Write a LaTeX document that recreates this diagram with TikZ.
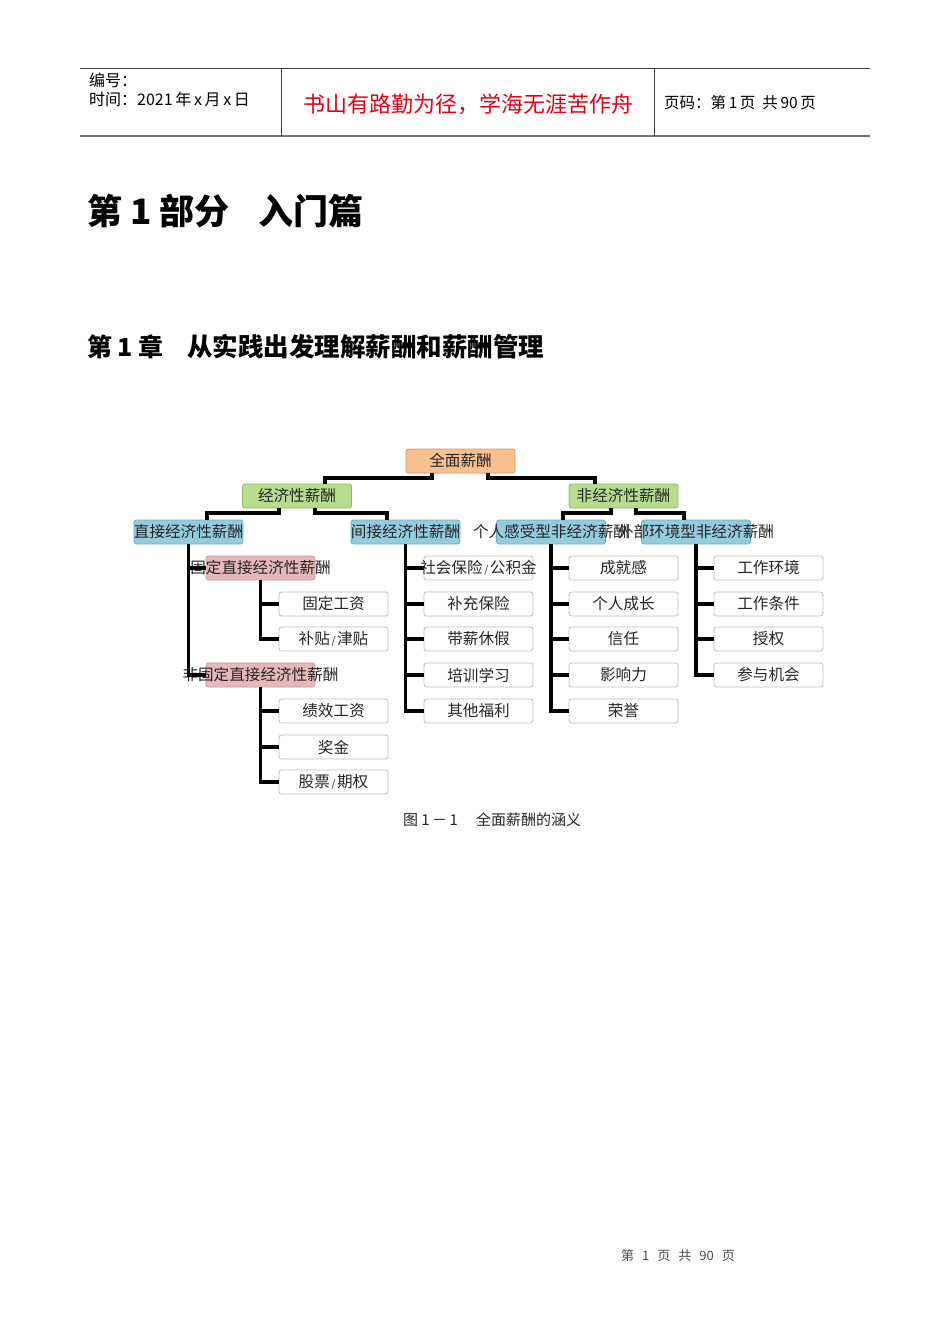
\documentclass[tikz,border=0pt]{standalone}
\usepackage{fontspec}
\setmainfont{Liberation Serif}
\newfontfamily\cjk{Noto Sans CJK SC}
\usetikzlibrary{calc}
\definecolor{orgfill}{HTML}{FAC090}
\definecolor{orgdraw}{HTML}{D99A66}
\definecolor{grnfill}{HTML}{B6DD8E}
\definecolor{grndraw}{HTML}{8FB86A}
\definecolor{blufill}{HTML}{93CDDD}
\definecolor{bludraw}{HTML}{6FAEC2}
\definecolor{pnkfill}{HTML}{E6B9B8}
\definecolor{pnkdraw}{HTML}{C99A99}
\definecolor{motto}{HTML}{E60012}
\tikzset{
  box/.style={rounded corners=2.5pt, minimum width=109pt, minimum height=24pt, inner sep=0pt, line width=0.8pt},
  orgbox/.style={box, fill=orgfill, draw=orgdraw},
  grnbox/.style={box, fill=grnfill, draw=grndraw},
  blubox/.style={box, fill=blufill, draw=bludraw},
  pnkbox/.style={box, fill=pnkfill, draw=pnkdraw},
  whtbox/.style={box, fill=white, draw=black!25},
  lbl/.style={font=\cjk\fontsize{15.6}{15.6}\selectfont, inner sep=0pt, text=black!85},
  conn/.style={line width=3.4pt, line join=miter, black},
  hdr/.style={font=\cjk\fontsize{16}{16}\selectfont, inner sep=0pt, anchor=west},
}
\begin{document}
\begin{tikzpicture}[x=1pt,y=-1pt]
\useasboundingbox (0,0) rectangle (950,1344);
% header
\coordinate (hTL) at (80,68);
\coordinate (hTR) at (870,68);
\coordinate (hBL) at (80,136);
\coordinate (hBR) at (870,136);
\coordinate (v1t) at (281,68);
\coordinate (v1b) at (281,136);
\coordinate (v2t) at (654,68);
\coordinate (v2b) at (654,136);
\draw[line width=1pt, black!75] (hTL) -- (hTR);
\draw[line width=1.8pt, black!55] (hBL) -- (hBR);
\draw[line width=1pt, black!75] (v1t) -- (v1b);
\draw[line width=1pt, black!75] (v2t) -- (v2b);
\node[hdr] (h1) at (89,80) {编号：};
\node[hdr] (h2) at (89,99) {时间：2021\,年\,x\,月\,x\,日};
\node[font=\cjk\fontsize{22}{22}\selectfont, text=motto, inner sep=0pt] (h3) at (468,104) {书山有路勤为径，学海无涯苦作舟};
\node[hdr, font=\cjk\fontsize{15.5}{15.5}\selectfont] (h4) at (664,103) {页码：第\,1\,页\ \ 共\,90\,页};
% titles
\node[font=\cjk\bfseries\fontsize{35}{35}\selectfont, inner sep=0pt, anchor=west] (t1) at (87,211) {第 1 部分};
\node[font=\cjk\bfseries\fontsize{35}{35}\selectfont, inner sep=0pt, anchor=west] (t2) at (258,211) {入门篇};
\node[font=\cjk\bfseries\fontsize{25}{25}\selectfont, inner sep=0pt, anchor=west] (t3) at (87,347) {第 1 章};
\node[font=\cjk\bfseries\fontsize{25.5}{25.5}\selectfont, inner sep=0pt, anchor=west] (t4) at (187,347) {从实践出发理解薪酬和薪酬管理};
% boxes
\node[orgbox] (top) at (460.5,461) {};
\node[grnbox] (econ) at (297,496) {};
\node[grnbox] (nonecon) at (623.5,496) {};
\node[blubox] (d1) at (188.5,532) {};
\node[blubox] (d2) at (405.5,532) {};
\node[blubox] (d3) at (551,532) {};
\node[blubox] (d4) at (696,532) {};
\node[pnkbox] (p1) at (260.5,568) {};
\node[pnkbox] (p2) at (260.5,675) {};
\node[whtbox] (a1) at (333.5,604) {};
\node[whtbox] (a2) at (333.5,639) {};
\node[whtbox] (a3) at (333.5,711) {};
\node[whtbox] (a4) at (333.5,747) {};
\node[whtbox] (a5) at (333.5,782) {};
\node[whtbox] (b1) at (478.5,568) {};
\node[whtbox] (b2) at (478.5,604) {};
\node[whtbox] (b3) at (478.5,639) {};
\node[whtbox] (b4) at (478.5,675) {};
\node[whtbox] (b5) at (478.5,711) {};
\node[whtbox] (c1) at (623.5,568) {};
\node[whtbox] (c2) at (623.5,604) {};
\node[whtbox] (c3) at (623.5,639) {};
\node[whtbox] (c4) at (623.5,675) {};
\node[whtbox] (c5) at (623.5,711) {};
\node[whtbox] (e1) at (768.5,568) {};
\node[whtbox] (e2) at (768.5,604) {};
\node[whtbox] (e3) at (768.5,639) {};
\node[whtbox] (e4) at (768.5,675) {};
% texts
\node[lbl] (topT) at (top) {全面薪酬};
\node[lbl] (econT) at (econ) {经济性薪酬};
\node[lbl] (noneconT) at (nonecon) {非经济性薪酬};
\node[lbl] (d1T) at (d1) {直接经济性薪酬};
\node[lbl] (d2T) at (d2) {间接经济性薪酬};
\node[lbl] (d3T) at (d3) {个人感受型非经济薪酬};
\node[lbl] (d4T) at (d4) {外部环境型非经济薪酬};
\node[lbl] (p1T) at (p1) {固定直接经济性薪酬};
\node[lbl] (p2T) at (p2) {非固定直接经济性薪酬};
\node[lbl] (a1T) at (a1) {固定工资};
\node[lbl] (a2T) at (a2) {补贴{\fontsize{10}{10}\selectfont\,/\,}津贴};
\node[lbl] (a3T) at (a3) {绩效工资};
\node[lbl] (a4T) at (a4) {奖金};
\node[lbl] (a5T) at (a5) {股票{\fontsize{10}{10}\selectfont\,/\,}期权};
\node[lbl] (b1T) at (b1) {社会保险{\fontsize{10}{10}\selectfont\,/\,}公积金};
\node[lbl] (b2T) at (b2) {补充保险};
\node[lbl] (b3T) at (b3) {带薪休假};
\node[lbl] (b4T) at (b4) {培训学习};
\node[lbl] (b5T) at (b5) {其他福利};
\node[lbl] (c1T) at (c1) {成就感};
\node[lbl] (c2T) at (c2) {个人成长};
\node[lbl] (c3T) at (c3) {信任};
\node[lbl] (c4T) at (c4) {影响力};
\node[lbl] (c5T) at (c5) {荣誉};
\node[lbl] (e1T) at (e1) {工作环境};
\node[lbl] (e2T) at (e2) {工作条件};
\node[lbl] (e3T) at (e3) {授权};
\node[lbl] (e4T) at (e4) {参与机会};
% connectors
\coordinate (y1) at (0,478);
\coordinate (y2) at (0,513);
\draw[conn] ([xshift=-28.5pt]top.south) -- ([xshift=-28.5pt]top.south |- y1) -| ([xshift=28pt]econ.north);
\draw[conn] ([xshift=27.5pt]top.south) -- ([xshift=27.5pt]top.south |- y1) -| ([xshift=-28.5pt]nonecon.north);
\draw[conn] ([xshift=-18pt]econ.south) -- ([xshift=-18pt]econ.south |- y2) -| ([xshift=18.5pt]d1.north);
\draw[conn] ([xshift=18pt]econ.south) -- ([xshift=18pt]econ.south |- y2) -| ([xshift=-18.5pt]d2.north);
\draw[conn] ([xshift=-12.5pt]nonecon.south) -- ([xshift=-12.5pt]nonecon.south |- y2) -| ([xshift=12pt]d3.north);
\draw[conn] ([xshift=12.5pt]nonecon.south) -- ([xshift=12.5pt]nonecon.south |- y2) -| ([xshift=-12pt]d4.north);
% direct
\draw[conn] (d1.south) |- (p2.west);
\draw[conn] (d1.south |- p1.west) -- (p1.west);
\draw[conn] (p1.south) |- (a2.west);
\draw[conn] (p1.south |- a1.west) -- (a1.west);
\draw[conn] (p2.south) |- (a5.west);
\draw[conn] (p2.south |- a3.west) -- (a3.west);
\draw[conn] (p2.south |- a4.west) -- (a4.west);
% indirect
\draw[conn] (d2.south) |- (b5.west);
\foreach \n in {b1,b2,b3,b4} \draw[conn] (d2.south |- \n.west) -- (\n.west);
% personal
\draw[conn] (d3.south) |- (c5.west);
\foreach \n in {c1,c2,c3,c4} \draw[conn] (d3.south |- \n.west) -- (\n.west);
% environment
\draw[conn] (d4.south) |- (e4.west);
\foreach \n in {e1,e2,e3} \draw[conn] (d4.south |- \n.west) -- (\n.west);
% caption and footer
\node[font=\cjk\fontsize{15}{15}\selectfont, inner sep=0pt, text=black!85] (cap) at (492,820) {图\ 1\,－\,1\hspace{18pt}全面薪酬的涵义};
\node[font=\cjk\fontsize{13}{13}\selectfont, inner sep=0pt, text=black!70] (foot) at (678,1256) {第\ \ \,1\ \ \,页\ \ \,共\ \ \,90\ \ \,页};
\end{tikzpicture}
\end{document}
